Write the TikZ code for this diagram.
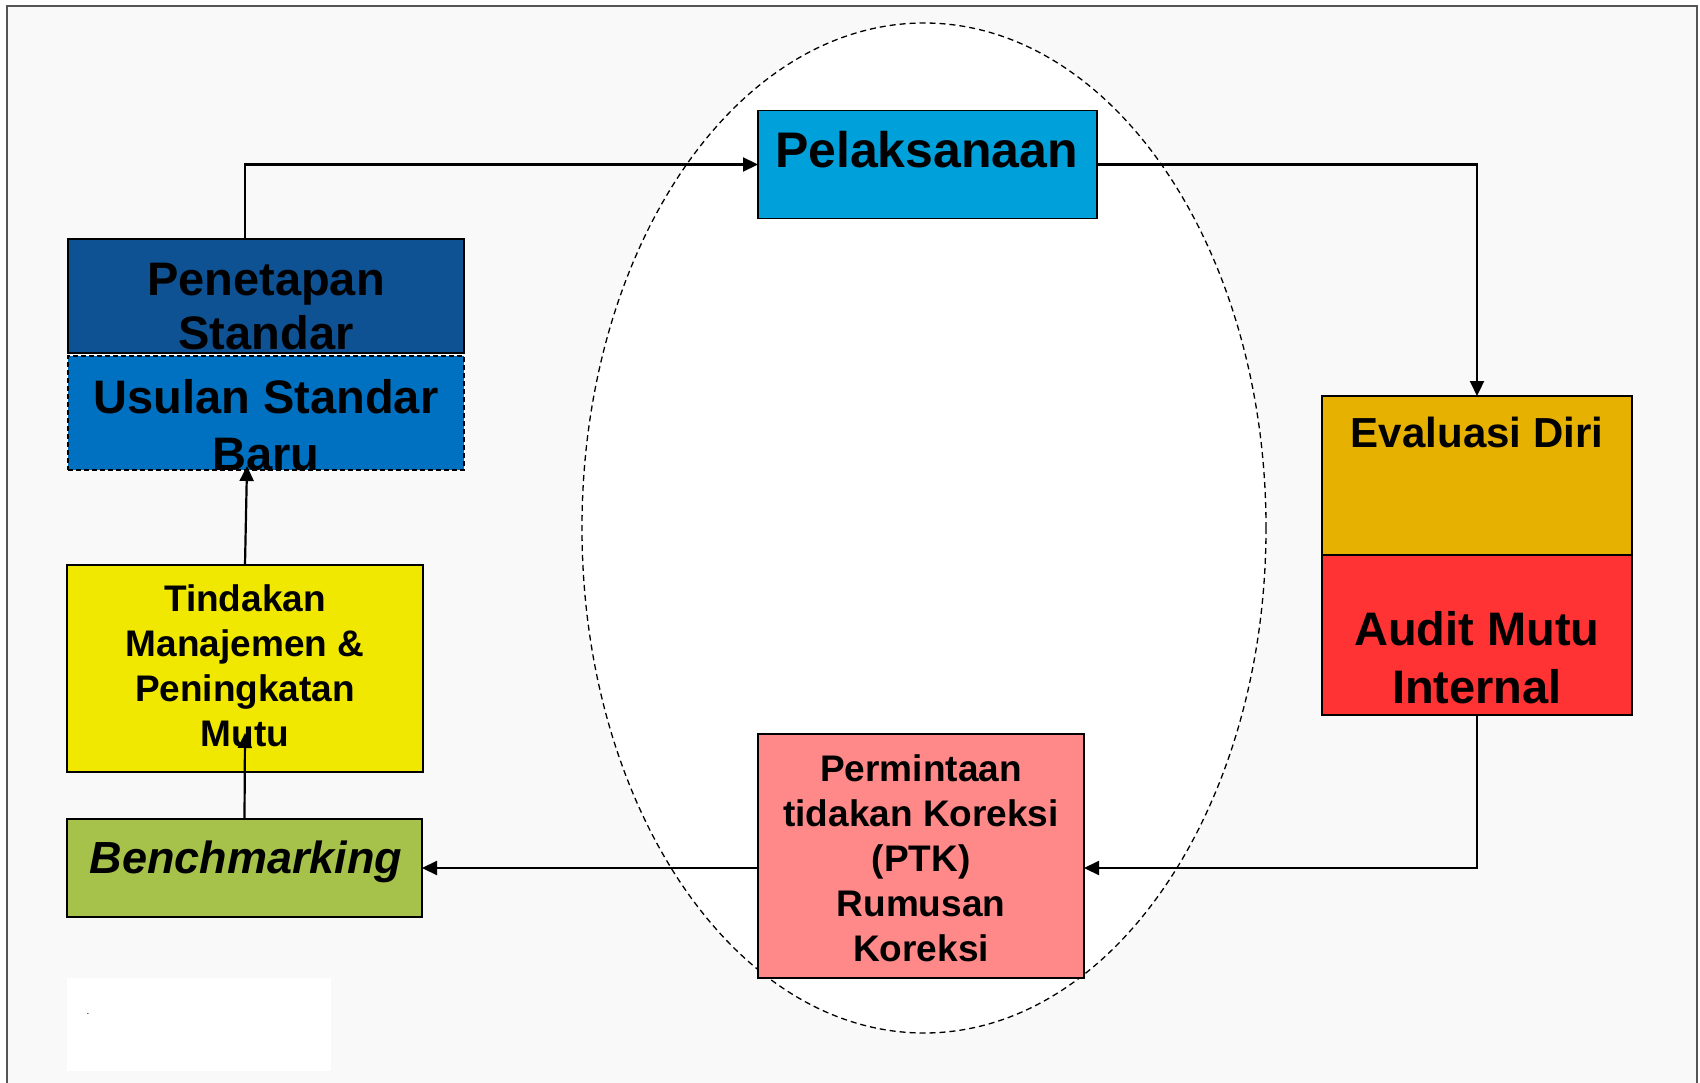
\documentclass[tikz,border=0pt]{standalone}
\usepackage{fontspec}
\setmainfont{Liberation Sans}
\usetikzlibrary{arrows.meta,calc}
\definecolor{bgc}{RGB}{249,249,249}
\definecolor{framec}{RGB}{85,85,85}
\definecolor{penc}{RGB}{14,82,148}
\definecolor{usuc}{RGB}{0,112,192}
\definecolor{tinc}{RGB}{240,232,0}
\definecolor{benc}{RGB}{166,194,74}
\definecolor{evac}{RGB}{230,177,0}
\definecolor{audc}{RGB}{255,51,51}
\definecolor{ptkc}{RGB}{255,136,136}
\definecolor{pelc}{RGB}{0,160,218}
\newcommand{\mylines}[1]{\begin{tabular}[t]{@{}c@{}}#1\end{tabular}}
\begin{document}
\begin{tikzpicture}[x=1pt,y=-1pt,
  box/.style={draw=black, line width=1.5pt, rectangle, inner sep=0pt, outer sep=0pt},
  lbl/.style={anchor=base, inner sep=0pt, outer sep=0pt},
  arr/.style={line width=2.2pt, -{Triangle[length=15pt,width=14pt]}},
  ]
\useasboundingbox (0,0) rectangle (1700,1083);
\fill[white] (0,0) rectangle (1700,1083);
\fill[bgc] (7,6) rectangle (1697,1083);
\draw[framec, line width=1.5pt] (7,1083) -- (7,6) -- (1697,6) -- (1697,1083);

% white patch bottom-left
\fill[white] (67,978) rectangle (331,1071);
\node[lbl, font=\fontsize{10}{12}\selectfont] (dot) at (88,1014) {.};

% dashed ellipse
\draw[fill=white, line width=1.3pt, dash pattern=on 6pt off 4pt] (924,528) ellipse [x radius=342, y radius=505];

% boxes
\node[box, fill=penc, minimum width=396pt, minimum height=114pt] (pen) at (266,296) {};
\node[box, fill=usuc, dash pattern=on 5pt off 3pt, minimum width=396pt, minimum height=114pt] (usu) at (266,413) {};
\node[box, fill=tinc, minimum width=356pt, minimum height=207pt] (tin) at (245,668.5) {};
\node[box, fill=benc, minimum width=355pt, minimum height=98pt] (ben) at (244.5,868) {};
\node[box, fill=evac, minimum width=310pt, minimum height=159pt] (eva) at (1477,475.5) {};
\node[box, fill=audc, minimum width=310pt, minimum height=160pt] (aud) at (1477,635) {};
\node[box, fill=ptkc, minimum width=326pt, minimum height=244pt] (ptk) at (921,856) {};
\node[box, fill=pelc, minimum width=339pt, minimum height=108pt] (pel) at (927.5,164.5) {};

% labels
\node[lbl, font=\bfseries\fontsize{50}{60}\selectfont] (pelT) at (926.5,168) {Pelaksanaan};
\node[lbl, font=\bfseries\fontsize{47}{54}\selectfont] (penT) at (266,296) {\mylines{Penetapan\\Standar}};
\node[lbl, font=\bfseries\fontsize{47}{57}\selectfont] (usuT) at (266,413) {\mylines{Usulan Standar\\Baru}};
\node[lbl, font=\bfseries\fontsize{37}{45}\selectfont] (tinT) at (245,611) {\mylines{Tindakan\\Manajemen \&\\Peningkatan\\Mutu}};
\node[lbl, font=\bfseries\itshape\fontsize{45}{54}\selectfont] (benT) at (246,873) {Benchmarking};
\node[lbl, font=\bfseries\fontsize{42}{50}\selectfont] (evaT) at (1477,447) {Evaluasi Diri};
\node[lbl, font=\bfseries\fontsize{47}{58}\selectfont] (audT) at (1477,645) {\mylines{Audit Mutu\\Internal}};
\node[lbl, font=\bfseries\fontsize{37}{45}\selectfont] (ptkT) at (921,781) {\mylines{Permintaan\\tidakan Koreksi\\(PTK)\\Rumusan\\Koreksi}};

% connectors
\coordinate (tipA) at (245,733);
\coordinate (tipB) at (247,466);
\draw[arr] (tin.north |- pen.north) |- (pel.west);
\draw[arr] (pel.east) -| (eva.north);
\draw[arr] (aud.south) |- (ptk.east |- ben.east);
\draw[arr] (ptk.west |- ben.east) -- (ben.east);
\draw[arr] (ben.north) -- (tipA);
\draw[arr] (tin.north) -- (tipB);
\end{tikzpicture}
\end{document}
